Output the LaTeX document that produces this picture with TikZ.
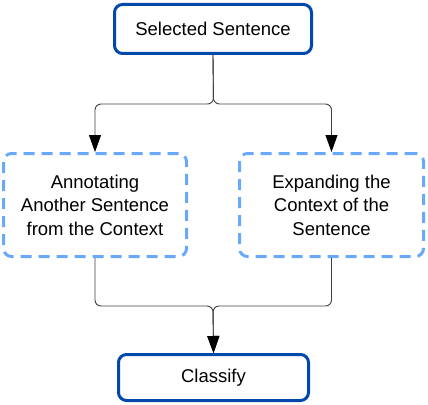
\documentclass[tikz,border=0pt]{standalone}
\usepackage{fontspec}
\setmainfont{Liberation Sans}
\usetikzlibrary{arrows.meta}
\definecolor{darkblue}{RGB}{0,72,170}
\definecolor{lightblue}{RGB}{105,168,250}
\begin{document}
\begin{tikzpicture}[x=1pt,y=-1pt,
  solidbox/.style={draw=darkblue,line width=3pt,rounded corners=8pt,align=center,inner sep=0pt,
    font=\fontsize{18.5}{22.5}\selectfont},
  dashbox/.style={draw=lightblue,line width=3pt,rounded corners=8pt,align=center,inner sep=0pt,
    dash pattern=on 11pt off 7pt,font=\fontsize{18.5}{23.5}\selectfont},
  conn/.style={draw=black!75,line width=0.9pt,rounded corners=6pt},
  arr/.style={-{Triangle[length=17pt,width=12pt,color=black]}}]
\useasboundingbox (0,0) rectangle (428,404);
\node[solidbox,minimum width=197pt,minimum height=49pt] (top) at (213,29) {Selected Sentence};
\node[dashbox,minimum width=183pt,minimum height=103pt] (left) at (95,205) {Annotating\\Another Sentence\\from the Context};
\node[dashbox,minimum width=184pt,minimum height=103pt] (right) at (331.5,205) {Expanding the\\Context of the\\Sentence};
\node[solidbox,minimum width=190pt,minimum height=46pt] (cls) at (213.5,377.5) {Classify};
\coordinate (tm) at (213.5,104);
\coordinate (bm) at (213,306);
\draw[conn,arr] (top.south) -- (tm) -| (left.north);
\draw[conn,arr] (top.south) -- (tm) -| (right.north);
\draw[conn,arr] (left.south) |- (bm) -- (cls.north);
\draw[conn,arr] (right.south) |- (bm) -- (cls.north);
\end{tikzpicture}
\end{document}
